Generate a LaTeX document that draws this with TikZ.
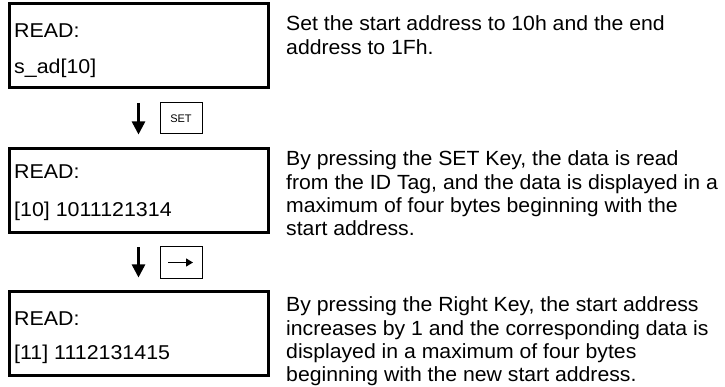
\documentclass[tikz,border=0pt]{standalone}
\usepackage{fontspec}
\setmainfont{Liberation Sans}
\newfontfamily\lcdfont[FakeStretch=1.07]{Liberation Sans}
\newfontfamily\descfont[FakeStretch=1.035]{Liberation Sans}
\usetikzlibrary{arrows.meta}
\begin{document}
\begin{tikzpicture}[x=1pt,y=-1pt,
 lcd/.style={draw, line width=3pt, minimum width=259pt, minimum height=84pt, inner sep=0pt, outer sep=0pt},
 lcdtxt/.style={anchor=base west, inner sep=0pt, font=\lcdfont\fontsize{20}{20}\selectfont},
 desc/.style={anchor=base west, inner sep=0pt, align=left, font=\descfont\fontsize{20.5}{23.3}\selectfont},
 keybox/.style={draw, line width=1pt, minimum width=42pt, minimum height=31pt, inner sep=0pt, outer sep=0pt, font=\fontsize{11}{11}\selectfont},
 flow/.style={line width=2.5pt, -{Triangle[length=13pt,width=13pt]}, shorten <=15pt, shorten >=14pt},
 keyarrow/.style={line width=1.3pt, -{Triangle[length=7pt,width=8pt]}}
]
\useasboundingbox (0,0) rectangle (725,387);
% LCD boxes
\node[lcd] (b1) at (138.5,46) {};
\node[lcd] (b2) at (138.5,190.5) {};
\node[lcd] (b3) at (138.5,333.5) {};
% LCD texts
\node[lcdtxt] (t1a) at (14,38) {READ:};
\node[lcdtxt] (t1b) at (14,74) {s\_ad[10]};
\node[lcdtxt] (t2a) at (14,179) {READ:};
\node[lcdtxt] (t2b) at (14,217) {[10] 1011121314};
\node[lcdtxt] (t3a) at (14,325) {READ:};
\node[lcdtxt] (t3b) at (14,359) {[11] 1112131415};
% flow arrows
\draw[flow] (b1) -- (b2);
\draw[flow] (b2) -- (b3);
% keys
\node[keybox] (k1) at (181,118.5) {SET};
\node[keybox] (k2) at (181,262.5) {};
\coordinate (k2l) at (168,262.5);
\coordinate (k2r) at (193,262.5);
\draw[keyarrow] (k2l) -- (k2r);
% descriptions (anchored at the baseline of their last line)
\node[desc] (d1) at (286,54.3) {Set the start address to 10h and the end\\address to 1Fh.};
\node[desc] (d2) at (286,235.9) {By pressing the SET Key, the data is read\\from the ID Tag, and the data is displayed in a\\maximum of four bytes beginning with the\\start address.};
\node[desc] (d3) at (286,381.6) {By pressing the Right Key, the start address\\increases by 1 and the corresponding data is\\displayed in a maximum of four bytes\\beginning with the new start address.};
\end{tikzpicture}
\end{document}
